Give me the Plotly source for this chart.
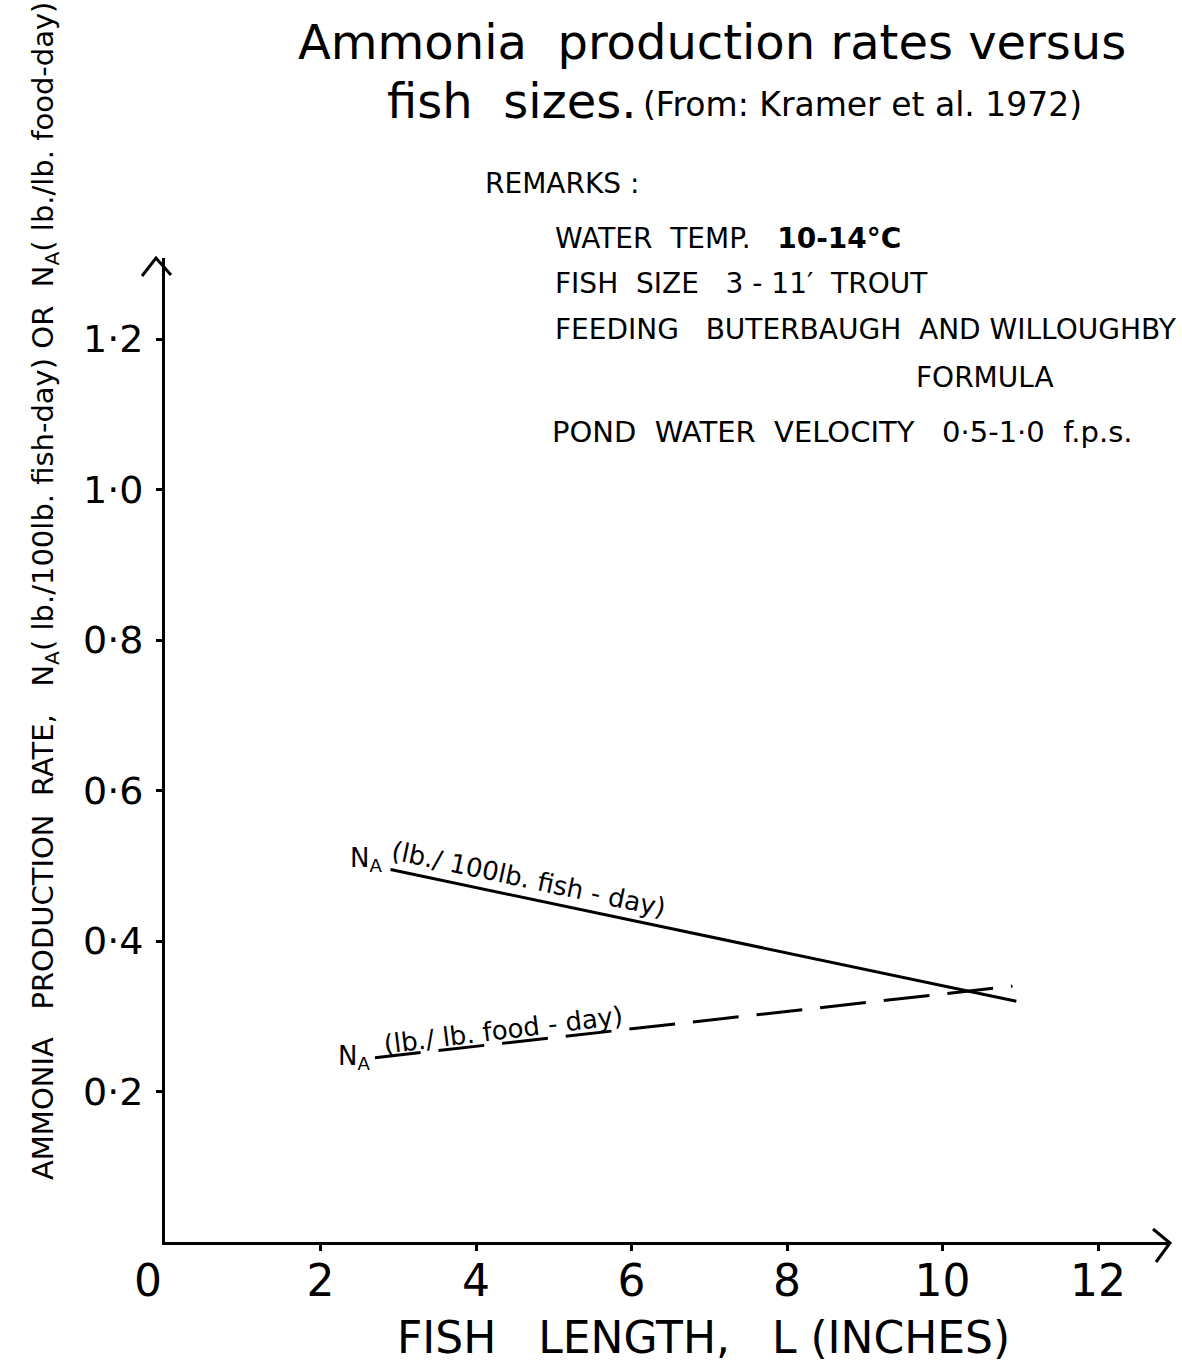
import plotly.graph_objects as go

# Ammonia production rate versus fish length (Kramer et al. 1972)
length_fish = [2.9, 10.95]        # inches
rate_fish = [0.495, 0.32]         # NA, lb./100 lb. fish-day
length_food = [2.7, 10.9]         # inches
rate_food = [0.245, 0.34]         # NA, lb./lb. food-day

x_ticks = [2, 4, 6, 8, 10, 12]
x_tick_text = ["2", "4", "6", "8", "10", "12"]
y_ticks = [0.2, 0.4, 0.6, 0.8, 1.0, 1.2]
y_tick_text = ["0·2", "0·4", "0·6", "0·8", "1·0", "1·2"]

NB = "\u00a0"
remarks = [
    f"WATER{NB}{NB}TEMP.{NB}{NB}{NB}<b>10-14°C</b>",
    f"FISH{NB}{NB}SIZE{NB}{NB}{NB}3 - 11′{NB}{NB}TROUT",
    f"FEEDING{NB}{NB}{NB}BUTERBAUGH{NB}{NB}AND{NB}WILLOUGHBY",
]

W, H = 1182, 1362
L, R, T, B = 165, 12, 258, 120
PW, PH = W - L - R, H - T - B
X_MAX = PW / 77.75
Y_MAX = PH / 752.5
FONT = "DejaVu Sans"
INK = "black"


def px(xp):
    return (xp - L) / PW


def py(yp):
    return (H - B - yp) / PH


def text(x, y, s, size, xanchor="center", yanchor="middle", angle=0, **kw):
    return dict(x=px(x), y=py(y), xref="paper", yref="paper", text=s,
                showarrow=False, xanchor=xanchor, yanchor=yanchor,
                textangle=angle, font=dict(family=FONT, size=size, color=INK), **kw)


fig = go.Figure()
fig.add_trace(go.Scatter(x=length_fish, y=rate_fish, mode="lines",
                         line=dict(color=INK, width=3), hoverinfo="skip"))
fig.add_trace(go.Scatter(x=length_food, y=rate_food, mode="lines",
                         line=dict(color=INK, width=3, dash="46px,18px"), hoverinfo="skip"))

ann = []
# titles
ann.append(text(296, 42, f"Ammonia{NB}{NB}production rates versus", 48, xanchor="left"))
ann.append(text(385, 101, f"fish{NB}{NB}sizes.", 48, xanchor="left"))
ann.append(text(641, 104, "(From: Kramer et al. 1972)", 33, xanchor="left"))

# remarks block
ann.append(text(483, 183, f"REMARKS{NB}:", 28, xanchor="left"))
for i, line in enumerate(remarks):
    ann.append(text(553, 238 + i * 45.5, line, 28, xanchor="left"))
ann.append(text(985, 377, "FORMULA", 28))
ann.append(text(550, 432,
                f"POND{NB}{NB}WATER{NB}{NB}VELOCITY{NB}{NB}{NB}0·5-1·0{NB}{NB}f.p.s.", 29,
                xanchor="left"))

# axis titles
ann.append(text(703, 1337, f"FISH{NB}{NB}{NB}LENGTH,{NB}{NB}{NB}L (INCHES)", 44))
ann.append(text(45, 591,
                f"AMMONIA{NB}{NB}{NB}PRODUCTION{NB}{NB}RATE,{NB}{NB}{NB}N<sub>A</sub>( lb./100lb. fish-day) OR{NB}{NB}"
                "N<sub>A</sub>( lb./lb. food-day)", 29, angle=-90))
ann.append(text(148, 1280, "0", 44))


# series labels, placed along each line
def on_line(xs, ys, xv):
    return ys[0] + (ys[1] - ys[0]) * (xv - xs[0]) / (xs[1] - xs[0])


ann.append(dict(x=length_fish[0], y=rate_fish[0], xref="x", yref="y",
                text="N<sub>A</sub>", showarrow=False, xanchor="right", yanchor="middle",
                xshift=-6, yshift=10, font=dict(family=FONT, size=26, color=INK)))
xm = 4.67
ann.append(dict(x=xm, y=on_line(length_fish, rate_fish, xm), xref="x", yref="y",
                text="(lb./ 100lb. fish - day)", showarrow=False, textangle=12,
                yshift=19, font=dict(family=FONT, size=26, color=INK)))
ann.append(dict(x=length_food[0], y=rate_food[0], xref="x", yref="y",
                text="N<sub>A</sub>", showarrow=False, xanchor="right", yanchor="middle",
                xshift=-3, yshift=0, font=dict(family=FONT, size=26, color=INK)))
xm2 = 4.35
ann.append(dict(x=xm2, y=on_line(length_food, rate_food, xm2), xref="x", yref="y",
                text="(lb./ lb. food - day)", showarrow=False, textangle=-7,
                yshift=13, font=dict(family=FONT, size=26, color=INK)))

# open arrowheads at the axis ends
shapes = [
    dict(type="path", xref="paper", yref="paper",
         path=f"M {px(1153)},{py(1229)} L {px(1170)},{py(1243)} L {px(1156)},{py(1262)}",
         line=dict(color=INK, width=3)),
    dict(type="path", xref="paper", yref="paper",
         path=f"M {px(142)},{py(276)} L {px(156)},{py(258)} L {px(171)},{py(275)}",
         line=dict(color=INK, width=3)),
]

fig.update_layout(
    width=W, height=H, margin=dict(l=L, r=R, t=T, b=B),
    paper_bgcolor="white", plot_bgcolor="white", showlegend=False,
    annotations=ann, shapes=shapes,
    font=dict(family=FONT, color=INK),
    xaxis=dict(range=[0, X_MAX], tickvals=x_ticks, ticktext=x_tick_text,
               showgrid=False, zeroline=False, showline=True, linecolor=INK, linewidth=3,
               ticks="outside", ticklen=6, tickwidth=3, tickcolor=INK,
               tickfont=dict(family=FONT, size=44, color=INK), ticklabelstandoff=-8),
    yaxis=dict(range=[0, Y_MAX], tickvals=y_ticks, ticktext=y_tick_text,
               showgrid=False, zeroline=False, showline=True, linecolor=INK, linewidth=3,
               ticks="outside", ticklen=6, tickwidth=3, tickcolor=INK,
               tickfont=dict(family=FONT, size=38, color=INK), ticklabelstandoff=5),
)

fig.write_html("out.html")
